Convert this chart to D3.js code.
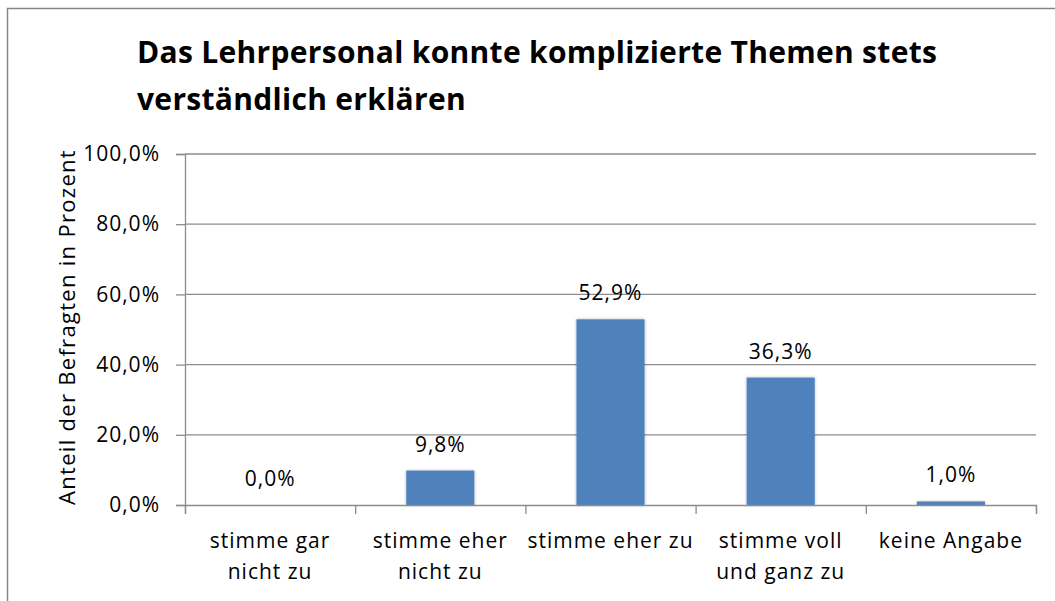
<!DOCTYPE html>
<html>
<head>
<meta charset="utf-8">
<script src="https://cdn.jsdelivr.net/npm/d3@7"></script>
<style>
  body { margin: 0; background: #fff; }
  svg { display: block; font-family: "Open Sans", sans-serif; }
</style>
</head>
<body>
<div id="chart"></div>
<script>
// chart data
const categories = ["stimme gar\nnicht zu", "stimme eher\nnicht zu", "stimme eher zu", "stimme voll\nund ganz zu", "keine Angabe"]
const values = [0.0, 9.8, 52.9, 36.3, 1.0]
const yTicks = [0, 20, 40, 60, 80, 100]
const titleLines = ["Das Lehrpersonal konnte komplizierte Themen stets", "verständlich erklären"]
const yTitle = "Anteil der Befragten in Prozent"

const width = 1055, height = 601
const plot = {left: 185, right: 1036, top: 154, bottom: 505}

const de = d3.formatLocale({decimal: ",", thousands: ".", grouping: [3], currency: ["", " €"]})
const pct = v => de.format(".1f")(v) + "%"

let svg = d3.select("#chart")
    .append("svg")
        .attr("width", width)
        .attr("height", height)

// soft shadow for the bars
let shadow = svg.append("defs").append("filter")
    .attr("id", "shadow")
    .attr("x", "-20%").attr("y", "-20%")
    .attr("width", "140%").attr("height", "140%")
shadow.append("feDropShadow")
    .attr("dx", 0).attr("dy", 0)
    .attr("stdDeviation", 1.6)
    .attr("flood-color", "#000")
    .attr("flood-opacity", 0.3)

//outer chart border
svg.append("rect")
    .attr("x", 7.5).attr("y", 8.5)
    .attr("width", 1100).attr("height", 700)
    .attr("fill", "none")
    .attr("stroke", "#868686")
    .attr("stroke-width", 1.5)

//title
svg.append("g")
    .selectAll("text")
    .data(titleLines)
    .join("text")
    .attr("x", 137)
    .attr("y", (d, i) => 63 + i * 47)
    .text(d => d)
    .style("font-size", "30px")
    .style("letter-spacing", "0.3px")
    .style("font-weight", "bold")
    .style("fill", "#000")

//scales
let y = d3.scaleLinear()
    .domain([0, 100])
    .range([plot.bottom, plot.top])

let x = d3.scaleBand()
    .domain(categories)
    .range([plot.left, plot.right])
    .paddingInner(0.6)
    .paddingOuter(0.3)

let xEdges = d3.scaleLinear()
    .domain([0, categories.length])
    .range([plot.left, plot.right])

//gridlines
svg.append("g")
    .selectAll("line")
    .data(yTicks.filter(d => d > 0))
    .join("line")
    .attr("x1", plot.left).attr("x2", plot.right)
    .attr("y1", d => y(d)).attr("y2", d => y(d))
    .attr("stroke", "#8c8c8c")
    .attr("stroke-width", 1.3)

//bars
svg.append("g")
    .selectAll("rect")
    .data(values)
    .join("rect")
    .attr("x", (d, i) => x(categories[i]))
    .attr("y", d => y(d))
    .attr("width", x.bandwidth())
    .attr("height", d => y(0) - y(d))
    .attr("fill", "#4F81BD")
    .attr("filter", "url(#shadow)")

//data labels
svg.append("g")
    .selectAll("text")
    .data(values)
    .join("text")
    .attr("x", (d, i) => x(categories[i]) + x.bandwidth() / 2)
    .attr("y", d => y(d) - 19)
    .attr("text-anchor", "middle")
    .text(d => pct(d))
    .style("font-size", "21px")
    .style("letter-spacing", "1px")
    .style("fill", "#000")

//y axis
let yAxis = svg.append("g")
    .attr("transform", `translate(${plot.left},0)`)
    .call(d3.axisLeft(y).tickValues(yTicks).tickSize(9).tickPadding(16).tickFormat(pct))
yAxis.selectAll("text")
    .style("font-size", "21px")
    .style("letter-spacing", "1px")
    .style("fill", "#000")
    .style("font-family", "'Open Sans', sans-serif")

//x axis, ticks on category boundaries
let xAxis = svg.append("g")
    .attr("transform", `translate(0,${plot.bottom})`)
    .call(d3.axisBottom(xEdges).tickValues(d3.range(categories.length + 1)).tickSize(9).tickFormat(""))

svg.selectAll(".domain, .tick line")
    .attr("stroke", "#8c8c8c")
    .attr("stroke-width", 1.3)

//category labels
svg.append("g")
    .selectAll("text")
    .data(categories)
    .join("text")
    .attr("text-anchor", "middle")
    .style("font-size", "21px")
    .style("letter-spacing", "1px")
    .style("fill", "#000")
    .each(function(d) {
        let cx = x(d) + x.bandwidth() / 2
        d3.select(this).selectAll("tspan")
            .data(d.split("\n"))
            .join("tspan")
            .attr("x", cx)
            .attr("y", (t, i) => 548 + i * 31)
            .text(t => t)
    })

//y axis title
svg.append("text")
    .attr("transform", "translate(75,327) rotate(-90)")
    .attr("text-anchor", "middle")
    .text(yTitle)
    .style("font-size", "22px")
    .style("letter-spacing", "1.3px")
    .style("fill", "#000")
</script>
</body>
</html>
